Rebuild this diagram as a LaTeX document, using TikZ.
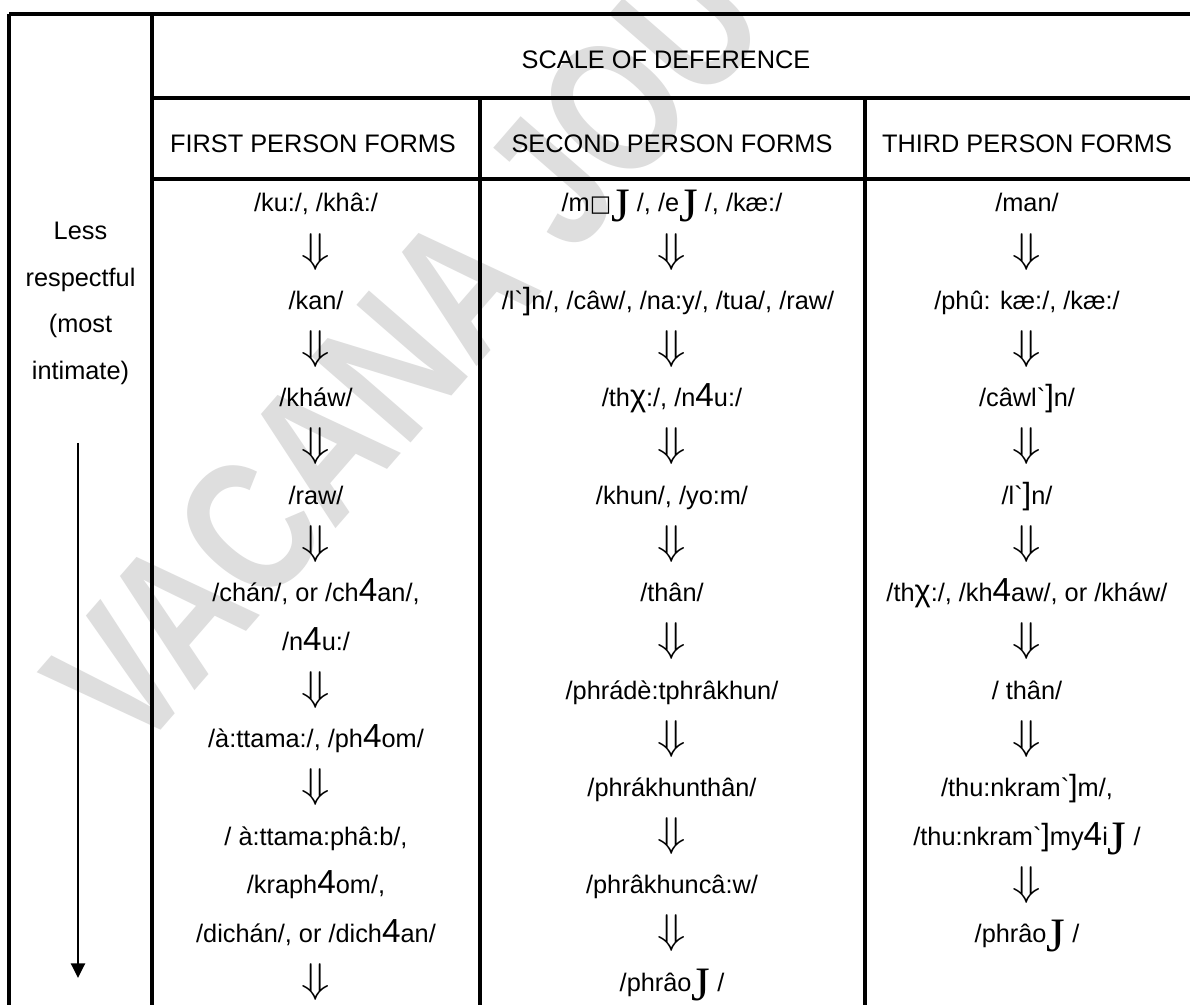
\documentclass[tikz,border=0pt]{standalone}
\usepackage{graphicx}
\usepackage{fontspec}
\setmainfont{Liberation Sans}[Ligatures=TeXOff]
\newfontfamily\jfont{Liberation Serif}
\newfontfamily\boxfont{DejaVu Sans}
\newfontfamily\wmfont{Liberation Sans Bold}
\usetikzlibrary{arrows.meta}
\newcommand\cellfont{\fontsize{19}{22}\selectfont}
\newcommand\bJ{{\jfont\fontsize{36}{36}\selectfont\raisebox{-7pt}{J}}}
\newcommand\bF{{\fontsize{25}{25}\selectfont 4}}
\newcommand\bB{{\fontsize{23}{23}\selectfont ]}}
\newcommand\bX{{\fontsize{23}{23}\selectfont χ}}
\newcommand\mB{{\boxfont\fontsize{17}{17}\selectfont □}}
\newcommand\dA{{\fontsize{24}{24}\selectfont\scalebox{1.4}[1.25]{$\Downarrow$}}}
\tikzset{
  rule/.style={line width=2.5pt},
  txt/.style={anchor=base, inner sep=0pt, font=\cellfont},
  dar/.style={anchor=center, inner sep=0pt},
  wm/.style={anchor=base west, inner sep=0pt, text=black!13, rotate=49, xscale=0.78,
    font=\wmfont\fontsize{143}{143}\selectfont}
}
\begin{document}
\begin{tikzpicture}[x=0.75pt,y=-0.75pt]
\useasboundingbox (0,0) rectangle (1190,1005);
\fill[white] (0,0) rectangle (1190,1005);
% watermark
\begin{scope}
\clip (0,0) rectangle (1190,1005);
\node[wm] (wmark) at (135,760) {VACANA JOU};
\end{scope}
% table rules
\draw[rule] (9,14) -- (1195,14);
\draw[rule] (9,14) -- (9,1010);
\draw[rule] (152,14) -- (152,1010);
\draw[rule] (152,98) -- (1195,98);
\draw[rule] (152,179) -- (1195,179);
\draw[rule] (480,98) -- (480,1010);
\draw[rule] (865,98) -- (865,1010);
% headers
\node[txt] (hscale) at (666,69) {SCALE OF DEFERENCE};
\node[txt] (h1) at (313,153) {FIRST PERSON FORMS};
\node[txt] (h2) at (672,153) {SECOND PERSON FORMS};
\node[txt] (h3) at (1027,153) {THIRD PERSON FORMS};
% left labels
\node[txt] (l1) at (80.5,240) {Less};
\node[txt] (l2) at (80.5,286.5) {respectful};
\node[txt] (l3) at (80.5,333) {(most};
\node[txt] (l4) at (80.5,380) {intimate)};
\coordinate (atop) at (78,443);
\coordinate (abot) at (78,978);
\draw[line width=1.8pt,-{Triangle[length=11pt,width=10.5pt]}] (atop) -- (abot);
% column 1
\node[txt] (c1r0) at (316,212) {/ku:/, /khâ:/};
\node[dar] (c1r1) at (316,251.7) {\dA};
\node[txt] (c1r2) at (316,309.4) {/kan/};
\node[dar] (c1r3) at (316,349.1) {\dA};
\node[txt] (c1r4) at (316,406.8) {/kháw/};
\node[dar] (c1r5) at (316,446.5) {\dA};
\node[txt] (c1r6) at (316,504.2) {/raw/};
\node[dar] (c1r7) at (316,543.9) {\dA};
\node[txt] (c1r8) at (316,601.6) {/chán/, or /ch\bF an/,};
\node[txt] (c1r9) at (316,650.3) {/n\bF u:/};
\node[dar] (c1r10) at (316,690) {\dA};
\node[txt] (c1r11) at (316,747.7) {/à:ttama:/, /ph\bF om/};
\node[dar] (c1r12) at (316,787.4) {\dA};
\node[txt] (c1r13) at (316,845.1) {/ à:ttama:phâ:b/,};
\node[txt] (c1r14) at (316,893.8) {/kraph\bF om/,};
\node[txt] (c1r15) at (316,942.5) {/dichán/, or /dich\bF an/};
\node[dar] (c1r16) at (316,982.2) {\dA};
% column 2
\node[txt] (c2r0) at (672,212) {/m\mB\bJ\ /, /e\bJ\ /, /kæ:/};
\node[dar] (c2r1) at (672,251.7) {\dA};
\node[txt] (c2r2) at (668,309.4) {/l`\bB n/, /câw/, /na:y/, /tua/, /raw/};
\node[dar] (c2r3) at (672,349.1) {\dA};
\node[txt] (c2r4) at (672,406.8) {/th\bX:/, /n\bF u:/};
\node[dar] (c2r5) at (672,446.5) {\dA};
\node[txt] (c2r6) at (672,504.2) {/khun/, /yo:m/};
\node[dar] (c2r7) at (672,543.9) {\dA};
\node[txt] (c2r8) at (672,601.6) {/thân/};
\node[dar] (c2r9) at (672,641.3) {\dA};
\node[txt] (c2r10) at (672,699) {/phrádè:tphrâkhun/};
\node[dar] (c2r11) at (672,738.7) {\dA};
\node[txt] (c2r12) at (672,796.4) {/phrákhunthân/};
\node[dar] (c2r13) at (672,836.1) {\dA};
\node[txt] (c2r14) at (672,893.8) {/phrâkhuncâ:w/};
\node[dar] (c2r15) at (672,933.5) {\dA};
\node[txt] (c2r16) at (672,991.2) {/phrâo\bJ\ /};
% column 3
\node[txt] (c3r0) at (1027,212) {/man/};
\node[dar] (c3r1) at (1027,251.7) {\dA};
\node[txt] (c3r2) at (1027,309.4) {/phû: kæ:/, /kæ:/};
\node[dar] (c3r3) at (1027,349.1) {\dA};
\node[txt] (c3r4) at (1027,406.8) {/câwl`\bB n/};
\node[dar] (c3r5) at (1027,446.5) {\dA};
\node[txt] (c3r6) at (1027,504.2) {/l`\bB n/};
\node[dar] (c3r7) at (1027,543.9) {\dA};
\node[txt] (c3r8) at (1027,601.6) {/th\bX:/, /kh\bF aw/, or /kháw/};
\node[dar] (c3r9) at (1027,641.3) {\dA};
\node[txt] (c3r10) at (1027,699) {/ thân/};
\node[dar] (c3r11) at (1027,738.7) {\dA};
\node[txt] (c3r12) at (1027,796.4) {/thu:nkram`\bB m/,};
\node[txt] (c3r13) at (1027,845.1) {/thu:nkram`\bB my\bF i\bJ\ /};
\node[dar] (c3r14) at (1027,884.8) {\dA};
\node[txt] (c3r15) at (1027,942.5) {/phrâo\bJ\ /};
\end{tikzpicture}
\end{document}
